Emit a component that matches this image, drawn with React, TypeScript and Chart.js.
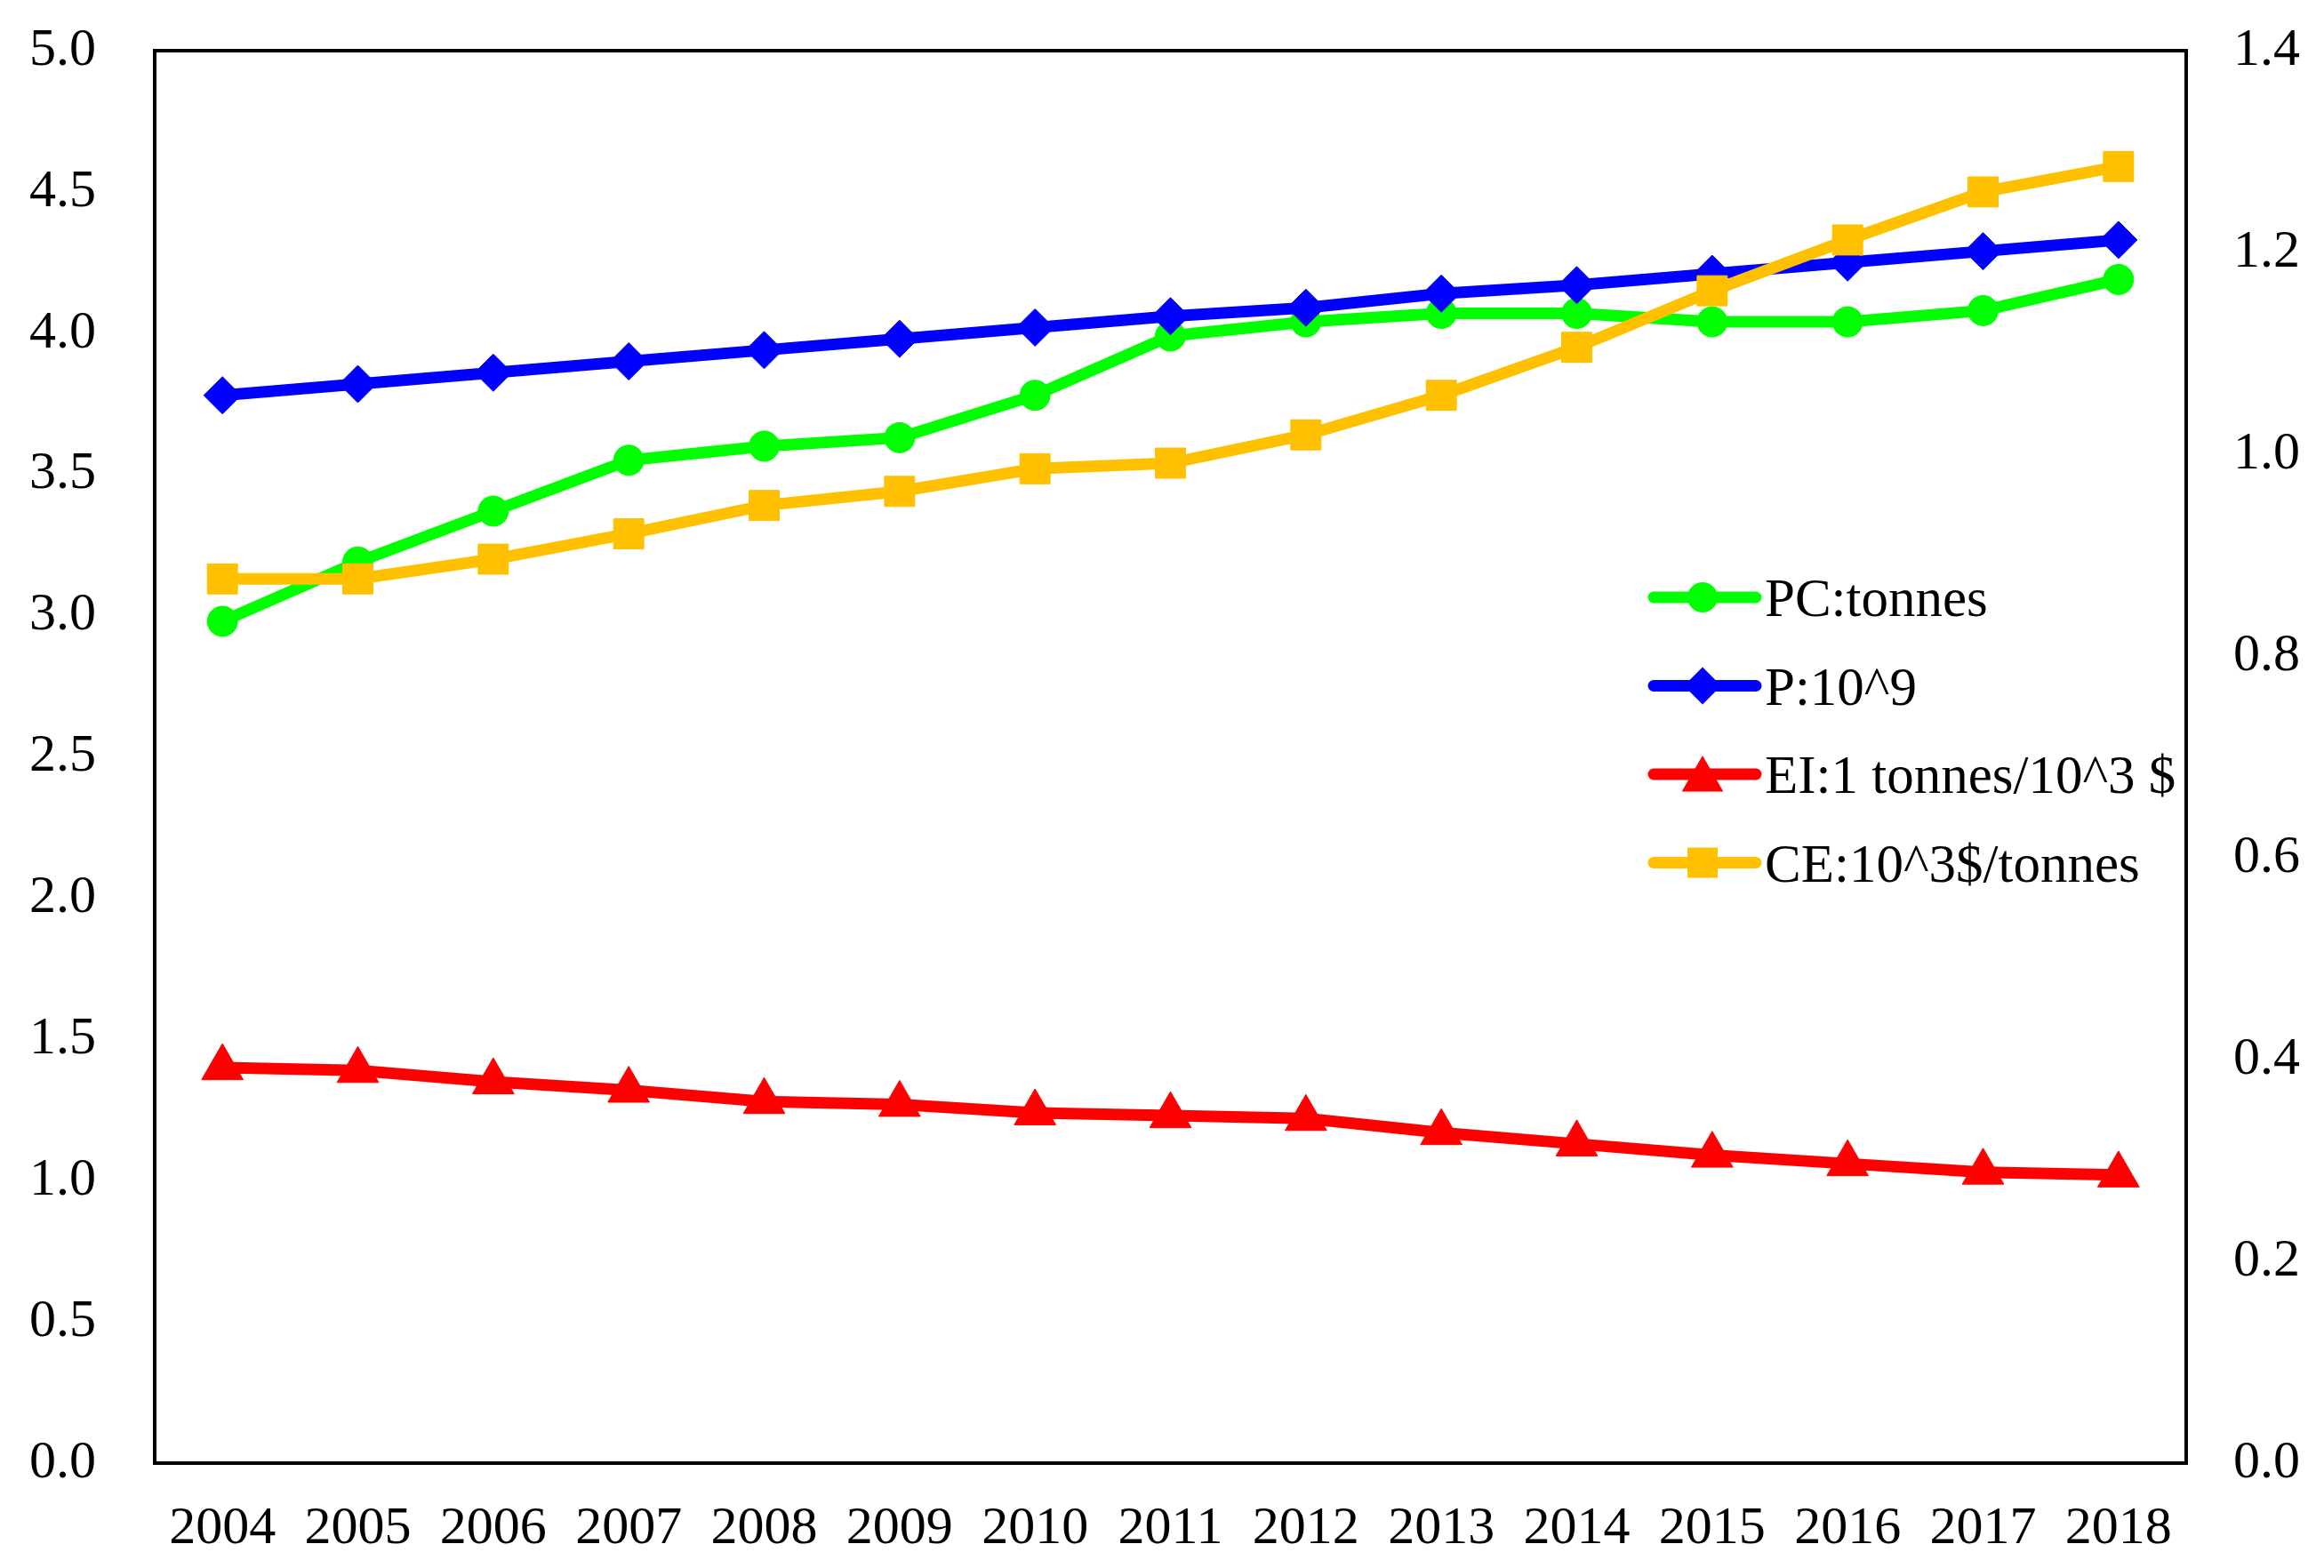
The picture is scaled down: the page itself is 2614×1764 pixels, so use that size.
import { Chart, ChartOptions, Plugin, registerables } from 'chart.js';
import React, { useEffect, useRef } from 'react';

Chart.register(...registerables);

const years = ['2004', '2005', '2006', '2007', '2008', '2009', '2010', '2011', '2012', '2013', '2014', '2015', '2016', '2017', '2018'];

const pcValues = [2.98, 3.19, 3.37, 3.55, 3.60, 3.63, 3.78, 3.99, 4.04, 4.07, 4.07, 4.04, 4.04, 4.08, 4.19];
const pValues = [3.78, 3.82, 3.86, 3.90, 3.94, 3.98, 4.02, 4.06, 4.09, 4.14, 4.17, 4.21, 4.25, 4.29, 4.33];
const eiValues = [1.40, 1.39, 1.35, 1.32, 1.28, 1.27, 1.24, 1.23, 1.22, 1.17, 1.13, 1.09, 1.06, 1.03, 1.02];
const ceValues = [3.13, 3.13, 3.20, 3.29, 3.39, 3.44, 3.52, 3.54, 3.64, 3.78, 3.95, 4.15, 4.33, 4.50, 4.59];

const seriesLabels = ['PC:tonnes', 'P:10^9', 'EI:1 tonnes/10^3 $', 'CE:10^3$/tonnes'];
const seriesColors = ['#00ff00', '#0000ff', '#ff0000', '#ffc000'];

const FONT = '"Liberation Serif", "Times New Roman", serif';

// draw one marker shape (used by the legend only)
function drawMarker(ctx: CanvasRenderingContext2D, style: string, x: number, y: number, r: number) {
  ctx.beginPath();
  if (style === 'circle') {
    ctx.arc(x, y, r, 0, Math.PI * 2);
  } else if (style === 'rectRot') {
    ctx.moveTo(x, y - r);
    ctx.lineTo(x + r, y);
    ctx.lineTo(x, y + r);
    ctx.lineTo(x - r, y);
  } else if (style === 'triangle') {
    ctx.moveTo(x, y - r);
    ctx.lineTo(x + r * 0.866, y + r * 0.5);
    ctx.lineTo(x - r * 0.866, y + r * 0.5);
  } else {
    const s = r * Math.SQRT1_2;
    ctx.rect(x - s, y - s, s * 2, s * 2);
  }
  ctx.closePath();
  ctx.fill();
}

// frame around the plot area + legend drawn inside it
const framePlugin: Plugin<'line'> = {
  id: 'frameAndLegend',
  afterDraw(chart) {
    const { ctx, chartArea } = chart;
    ctx.save();
    ctx.strokeStyle = '#000';
    ctx.lineWidth = 4;
    ctx.strokeRect(chartArea.left, chartArea.top, chartArea.right - chartArea.left, chartArea.bottom - chartArea.top);

    const lx = 1860;
    const ly = 672;
    const rowGap = 99.5;
    chart.data.datasets.forEach((ds: any, i: number) => {
      const y = ly + i * rowGap;
      ctx.strokeStyle = ds.borderColor;
      ctx.fillStyle = ds.borderColor;
      ctx.lineWidth = 13;
      ctx.lineCap = 'round';
      ctx.beginPath();
      ctx.moveTo(lx, y);
      ctx.lineTo(lx + 115, y);
      ctx.stroke();
      drawMarker(ctx, ds.pointStyle, lx + 55, i === 2 ? y + 6 : y, ds.pointRadius);
      ctx.fillStyle = '#000';
      ctx.font = `61px ${FONT}`;
      ctx.textBaseline = 'alphabetic';
      ctx.textAlign = 'left';
      ctx.fillText(ds.label, lx + 125, y + 21);
    });
    ctx.restore();
  },
};

export default function App() {
  const canvasRef = useRef<HTMLCanvasElement>(null);

  useEffect(() => {
    document.body.style.margin = '0';
    if (!canvasRef.current) return;

    const line = (idx: number, data: number[], pointStyle: string, radius: number, order: number) => ({
      label: seriesLabels[idx],
      data,
      borderColor: seriesColors[idx],
      backgroundColor: seriesColors[idx],
      pointBackgroundColor: seriesColors[idx],
      pointBorderColor: seriesColors[idx],
      pointBorderWidth: 1,
      borderWidth: 13,
      tension: 0,
      pointStyle,
      pointRadius: radius,
      yAxisID: 'y',
      order,
    });

    const options: ChartOptions<'line'> = {
      responsive: false,
      animation: false,
      layout: { padding: { top: 57, left: 0, right: 0, bottom: 0 } },
      plugins: {
        legend: { display: false },
        tooltip: { enabled: false },
      },
      scales: {
        x: {
          offset: true,
          grid: { display: false, drawTicks: false },
          border: { display: false },
          ticks: {
            padding: 38,
            color: '#000',
            font: { family: FONT, size: 60 },
            maxRotation: 0,
            autoSkip: false,
          },
          afterFit: (scale: any) => {
            scale.height = 118;
          },
        },
        y: {
          position: 'left',
          min: 0,
          max: 5,
          grid: { display: false, drawTicks: false },
          border: { display: false },
          ticks: {
            stepSize: 0.5,
            padding: 66,
            color: '#000',
            font: { family: FONT, size: 60 },
            callback: (v) => Number(v).toFixed(1),
          },
          afterFit: (scale: any) => {
            scale.width = 174;
            scale.paddingTop = 0;
            scale.paddingBottom = 0;
          },
        },
        y1: {
          position: 'right',
          min: 0,
          max: 1.4,
          grid: { display: false, drawTicks: false },
          border: { display: false },
          ticks: {
            stepSize: 0.2,
            padding: 53,
            color: '#000',
            font: { family: FONT, size: 60 },
            callback: (v) => Number(v).toFixed(1),
          },
          afterFit: (scale: any) => {
            scale.width = 155;
            scale.paddingTop = 0;
            scale.paddingBottom = 0;
          },
        },
      },
    };

    const chart = new Chart(canvasRef.current, {
      type: 'line',
      data: {
        labels: years,
        datasets: [
          line(0, pcValues, 'circle', 17, 4),
          line(1, pValues, 'rectRot', 21, 3),
          line(2, eiValues, 'triangle', 27, 2),
          line(3, ceValues, 'rect', 24, 1),
        ] as any,
      },
      options,
      plugins: [framePlugin],
    });

    return () => {
      chart.destroy();
    };
  }, []);

  return (
    <div style={{ width: '2614px', height: '1764px', background: '#fff' }}>
      <canvas ref={canvasRef} width={2614} height={1764} style={{ width: '2614px', height: '1764px', display: 'block' }} />
    </div>
  );
}
